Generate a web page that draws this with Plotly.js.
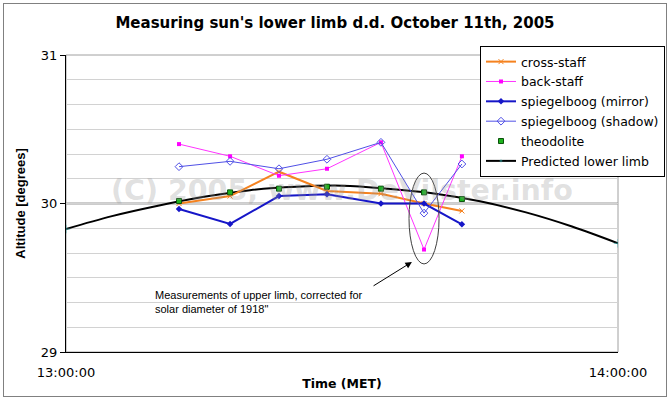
<!DOCTYPE html>
<html>
<head>
<meta charset="utf-8">
<script src="https://cdn.plot.ly/plotly-3.0.1.min.js"></script>
<style>
  html, body { margin: 0; padding: 0; background: #fff; }
  #chart { position: absolute; left: 0; top: 0; width: 670px; height: 399px; }
  #frame { position: absolute; left: 3px; top: 3px; width: 662px; height: 392px;
           border: 1px solid #808080; pointer-events: none; }
</style>
</head>
<body>
<div id="chart"></div>
<div id="frame"></div>
<script>
// ---- data ----
const day = '2005-10-11 ';
const obsTimes = ['13:12:17', '13:17:50', '13:23:09', '13:28:22', '13:34:14', '13:38:55', '13:43:02'];
const crossStaff   = [30.000, 30.050, 30.214, 30.084, 30.066, 30.000, 29.950];
const backStaff    = [30.400, 30.318, 30.187, 30.234, 30.412, 29.690, 30.318];
const mirror       = [29.963, 29.862, 30.050, 30.062, 30.000, 30.000, 29.860];
const shadow       = [30.248, 30.284, 30.234, 30.298, 30.412, 29.935, 30.266];
const theodolite   = [30.017, 30.075, 30.100, 30.113, 30.100, 30.075, 30.030];
const predTimes = ['13:00:00', '13:05:00', '13:10:00', '13:15:00', '13:20:00', '13:25:00', '13:30:00',
                   '13:35:00', '13:40:00', '13:45:00', '13:50:00', '13:55:00', '14:00:00'];
const predicted = [29.828, 29.915, 29.985, 30.045, 30.090, 30.113, 30.120,
                   30.100, 30.068, 30.015, 29.940, 29.845, 29.732];
const seriesNames = ['cross-staff', 'back-staff', 'spiegelboog (mirror)', 'spiegelboog (shadow)', 'theodolite', 'Predicted lower limb'];
const xTickVals = ['13:00:00', '14:00:00'];
const yTickVals = [29, 30, 31];
const titleText = "Measuring sun's lower limb d.d. October 11th, 2005";
const xTitle = 'Time (MET)';
const yTitle = 'Altitude [degrees]';
const noteText = 'Measurements of upper limb, corrected for<br>solar diameter of 1918"';
const watermark = '(C) 2005, www.DeVilster.info';

const X = obsTimes.map(t => day + t);
const XP = predTimes.map(t => day + t);

const FONT = 'DejaVu Sans, Arial, sans-serif';
const ARIAL = 'Liberation Sans, Arial, sans-serif';

const predMarkerSize = predTimes.map((t, i) => (i === 0 || i === predTimes.length - 1) ? 6 : 0);

const traces = [
  { name: seriesNames[5], x: XP, y: predicted, mode: 'lines+markers', type: 'scatter',
    line: { color: '#000000', width: 2, shape: 'spline', smoothing: 1 },
    marker: { symbol: 'cross-thin', size: predMarkerSize, color: '#33CCCC', line: { color: '#33AAAA', width: 1 } },
    legendrank: 6, legendgroup: 'g6' },
  { name: seriesNames[0], x: X, y: crossStaff, mode: 'lines+markers', type: 'scatter',
    line: { color: '#F5821F', width: 2 },
    marker: { symbol: 'x-thin', size: 5, color: '#F5821F', line: { color: '#F5821F', width: 1 } },
    legendrank: 1, legendgroup: 'g1' },
  { name: seriesNames[1], x: X, y: backStaff, mode: 'lines+markers', type: 'scatter',
    line: { color: '#FF33FF', width: 1 },
    marker: { symbol: 'square', size: 4, color: '#FF00FF' },
    legendrank: 2, legendgroup: 'g2' },
  { name: seriesNames[2], x: X, y: mirror, mode: 'lines+markers', type: 'scatter',
    line: { color: '#1616C8', width: 2 },
    marker: { symbol: 'diamond', size: 5, color: '#1616C8' },
    legendrank: 3, legendgroup: 'g3' },
  { name: seriesNames[3], x: X, y: shadow, mode: 'lines+markers', type: 'scatter',
    line: { color: '#5050E6', width: 1 },
    marker: { symbol: 'diamond-open', size: 6, color: '#5050E6', line: { width: 1 } },
    legendrank: 4, legendgroup: 'g4' },
  { name: seriesNames[4], x: X, y: theodolite, mode: 'markers', type: 'scatter',
    marker: { symbol: 'square', size: 5, color: '#1DB31D', line: { color: '#0A500A', width: 1 } },
    legendrank: 5, legendgroup: 'g5' }
];

const ellipse = { x0: day + '13:37:17', x1: day + '13:40:33', y0: 29.593, y1: 30.205 };
const arrowTip = { x: day + '13:37:36', y: 29.606 };
const arrowTail = { x: day + '13:33:03', y: 29.431 };
const noteAnchor = { x: day + '13:09:28', y: 29.337 };
const refAltitude = 30;

const layout = {
  width: 670, height: 399,
  paper_bgcolor: '#ffffff', plot_bgcolor: '#ffffff',
  margin: { l: 66, r: 52, t: 55, b: 47, pad: 0, autoexpand: false },
  showlegend: true,
  title: { text: titleText, font: { family: FONT, size: 15, color: '#000', weight: 'bold' },
           x: 0.5, xref: 'container', y: 1 - 23 / 399, yref: 'container', xanchor: 'center', yanchor: 'middle' },
  font: { family: FONT, size: 13, color: '#000' },
  xaxis: {
    type: 'date',
    range: [day + xTickVals[0], day + xTickVals[1]],
    tickmode: 'array', tickvals: xTickVals.map(t => day + t), tickformat: '%H:%M:%S',
    ticks: '', showgrid: false, zeroline: false,
    showline: true, linecolor: '#000', linewidth: 1,
    ticklabelstandoff: 8,
    tickfont: { family: FONT, size: 13, color: '#000' },
    title: { text: xTitle, font: { family: FONT, size: 12.5, weight: 'bold', color: '#000' }, standoff: 0 }
  },
  yaxis: {
    range: [29, 31],
    tickmode: 'array', tickvals: yTickVals,
    ticks: 'outside', ticklen: 5, tickcolor: '#000',
    showgrid: false, zeroline: false,
    showline: true, linecolor: '#000', linewidth: 1,
    tickfont: { family: FONT, size: 13, color: '#000' },
    minor: { tick0: 29, dtick: 1 / 6, showgrid: true, gridcolor: '#D2D2D2', gridwidth: 1, ticks: '' },
    title: { text: yTitle, font: { family: ARIAL, size: 13, weight: 'bold', color: '#000' }, standoff: 12 }
  },
  legend: {
    x: 480 / 670, xref: 'container', xanchor: 'left',
    y: 1 - 46 / 399, yref: 'container', yanchor: 'top',
    bgcolor: '#ffffff', bordercolor: '#000', borderwidth: 1,
    font: { family: FONT, size: 12.5, color: '#000' },
    traceorder: 'grouped', tracegroupgap: 0.6
  },
  shapes: [
    { type: 'rect', xref: 'paper', yref: 'paper', x0: 0, x1: 1, y0: 0, y1: 1,
      line: { color: '#A0A0A0', width: 1 }, layer: 'below' },
    { type: 'line', xref: 'paper', yref: 'y', x0: 0, x1: 1, y0: refAltitude, y1: refAltitude,
      line: { color: '#9A9A9A', width: 2 }, layer: 'below' },
    { type: 'circle', xref: 'x', yref: 'y', x0: ellipse.x0, x1: ellipse.x1, y0: ellipse.y0, y1: ellipse.y1,
      line: { color: '#404040', width: 1 } }
  ],
  annotations: [
    { text: watermark, xref: 'paper', yref: 'y', x: 0.5, y: 30.09, showarrow: false,
      font: { family: FONT, size: 28.5, weight: 'bold', color: 'rgba(150,150,150,0.3)' } },
    { text: ' ', x: arrowTip.x, y: arrowTip.y, xref: 'x', yref: 'y',
      ax: arrowTail.x, ay: arrowTail.y, axref: 'x', ayref: 'y',
      showarrow: true, arrowhead: 2, arrowsize: 1.3, arrowwidth: 1, arrowcolor: '#000' },
    { text: noteText, x: noteAnchor.x, y: noteAnchor.y, xref: 'x', yref: 'y',
      xanchor: 'left', yanchor: 'middle', align: 'left', showarrow: false,
      font: { family: ARIAL, size: 11, color: '#000' } }
  ]
};

Plotly.newPlot('chart', traces, layout, { displayModeBar: false, staticPlot: true });
</script>
</body>
</html>
